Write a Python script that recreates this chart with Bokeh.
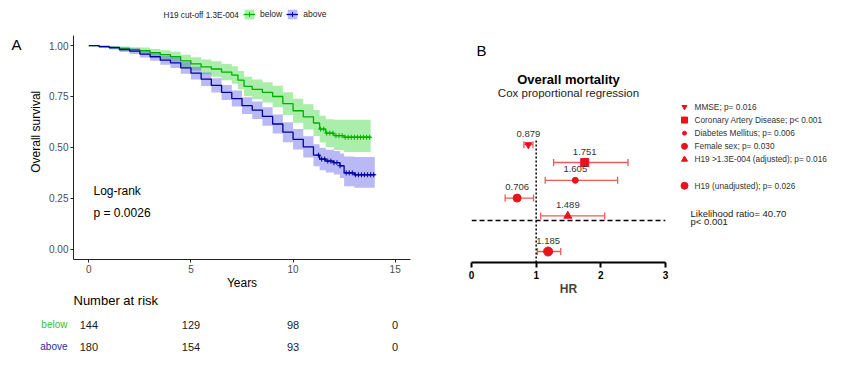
import numpy as np
from bokeh.plotting import figure
from bokeh.models import (Range1d, Label, Legend, LegendItem, ColumnDataSource,
                          Whisker, TeeHead, FixedTicker, NumeralTickFormatter)
from bokeh.layouts import row, column
from bokeh.embed import file_html
from bokeh.resources import INLINE
from bokeh.core.properties import value

# ---------------- data: panel A (Kaplan-Meier) ----------------
LEGEND_TITLE = "H19 cut-off 1.3E-004"
GROUPS = ["below", "above"]

BELOW_T = [0, 0.5, 1.0, 1.5, 2.0, 2.5, 3.0, 3.5, 4.0, 4.5,
           5.0, 5.5, 6.0, 6.5, 7.0, 7.3, 7.6, 8.0, 8.5, 9.0,
           9.5, 10.0, 10.5, 11.0, 11.3, 11.6, 12.0, 12.5, 13.8]
BELOW_S = [1.0, 0.995, 0.99, 0.985, 0.98, 0.975, 0.965, 0.955, 0.945, 0.925,
           0.91, 0.895, 0.885, 0.87, 0.855, 0.83, 0.80, 0.785, 0.77, 0.75,
           0.715, 0.68, 0.65, 0.62, 0.59, 0.57, 0.558, 0.55, 0.548]
BELOW_HI = [1.0, 1.0, 0.998, 0.995, 0.992, 0.99, 0.983, 0.977, 0.97, 0.955,
            0.943, 0.931, 0.923, 0.91, 0.898, 0.875, 0.847, 0.834, 0.82, 0.803,
            0.771, 0.739, 0.712, 0.684, 0.656, 0.638, 0.636, 0.636, 0.638]
BELOW_LO = [1.0, 0.99, 0.982, 0.975, 0.968, 0.96, 0.947, 0.933, 0.92, 0.895,
            0.877, 0.859, 0.847, 0.83, 0.812, 0.785, 0.753, 0.736, 0.72, 0.697,
            0.659, 0.621, 0.588, 0.556, 0.524, 0.502, 0.487, 0.478, 0.477]
BELOW_CENSOR_T = [11.35, 11.5, 11.65, 11.8, 11.95, 12.1, 12.25, 12.4, 12.55,
                  12.7, 12.85, 13.0, 13.15, 13.3, 13.45, 13.6, 13.75]

ABOVE_T = [0, 0.5, 1.0, 1.5, 2.0, 2.5, 3.0, 3.5, 4.0, 4.5,
           5.0, 5.5, 6.0, 6.5, 7.0, 7.5, 8.0, 8.5, 9.0, 9.5,
           10.0, 10.5, 11.0, 11.3, 11.6, 12.0, 12.3, 12.5, 13.0, 14.0]
ABOVE_S = [1.0, 0.995, 0.99, 0.98, 0.973, 0.958, 0.945, 0.928, 0.915, 0.89,
           0.865, 0.835, 0.805, 0.77, 0.74, 0.705, 0.683, 0.652, 0.615, 0.575,
           0.54, 0.503, 0.462, 0.443, 0.433, 0.425, 0.41, 0.375, 0.366, 0.364]
ABOVE_HI = [1.0, 1.0, 0.998, 0.992, 0.987, 0.975, 0.965, 0.95, 0.94, 0.918,
            0.896, 0.868, 0.84, 0.807, 0.779, 0.746, 0.726, 0.697, 0.662, 0.624,
            0.59, 0.555, 0.516, 0.498, 0.489, 0.483, 0.47, 0.455, 0.453, 0.452]
ABOVE_LO = [1.0, 0.99, 0.982, 0.968, 0.959, 0.941, 0.925, 0.906, 0.89, 0.862,
            0.834, 0.802, 0.77, 0.733, 0.701, 0.664, 0.64, 0.607, 0.568, 0.526,
            0.49, 0.451, 0.408, 0.388, 0.377, 0.367, 0.35, 0.31, 0.302, 0.301]
ABOVE_CENSOR_T = [11.25, 11.4, 11.55, 11.7, 11.85, 12.0, 12.15, 12.3, 12.6,
                  12.75, 12.9, 13.05, 13.2, 13.35, 13.5, 13.65, 13.8, 13.95]

X_TICKS = [0, 5, 10, 15]
Y_TICKS = [0, 0.25, 0.5, 0.75, 1.0]
LOGRANK_TEXT = ["Log-rank", "p = 0.0026"]

RISK_TIMES = [0, 5, 10, 15]
RISK_BELOW = [144, 129, 98, 0]
RISK_ABOVE = [180, 154, 93, 0]

# ---------------- data: panel B (Cox regression) ----------------
COX_VARS = ["MMSE", "Coronary Artery Disease", "Diabetes Mellitus", "Female sex",
            "H19 >1.3E-004 (adjusted)", "H19 (unadjusted)"]
COX_P = ["p= 0.016", "p< 0.001", "p= 0.006", "p= 0.030", "p= 0.016", "p= 0.026"]
COX_HR = [0.879, 1.751, 1.605, 0.706, 1.489, 1.185]
COX_LO = [0.81, 1.27, 1.14, 0.52, 1.07, 1.02]
COX_HI = [0.95, 2.42, 2.26, 0.96, 2.06, 1.38]
COX_ROW = [6, 5, 4, 3, 2, 0]
HR_TICKS = [0, 1, 2, 3]
LIKELIHOOD_TEXT = ["Likelihood ratio= 40.70", "p< 0.001"]

# ---------------- styles ----------------
FONT = "Liberation Sans"
GREEN, GREEN_FILL = "#00B000", "#00C800"
BLUE, BLUE_FILL = "#00009C", "#2B2BE0"
RED, RED_BAR = "#E8141B", "#EE5A5A"
MARKERS = ["inverted_triangle", "square", "circle", "circle", "triangle", "circle"]
MSIZES = [7, 8, 6, 8, 8, 9]

# ---------------- layout constants (page pixels) ----------------
W_A = 440
W_STRIP = 44
H_KM, H_RISK = 292, 63
W_KM = W_A - W_STRIP
FRAME_L, FRAME_R, FRAME_BOT = 73, 410, 260       # KM frame edges on the page
X_RANGE = (-0.75, 15.75)
Y_AXIS = (-0.05, 1.05)
FRAME_W = FRAME_R - FRAME_L
PPU_X = FRAME_W / (X_RANGE[1] - X_RANGE[0])
PPU_Y = 225 / (Y_AXIS[1] - Y_AXIS[0])
Y_TOP = Y_AXIS[1] + (FRAME_BOT - 225) / PPU_Y      # frame reaches page top


def px2t(px):
    return X_RANGE[0] + (px - FRAME_L) / PPU_X


def py2s(py):
    return Y_TOP - py / PPU_Y


def step_xy(t, s):
    t = np.asarray(t, float)
    s = np.asarray(s, float)
    return np.repeat(t, 2)[1:], np.repeat(s, 2)[:-1]


def step_at(t, s, q):
    idx = np.searchsorted(np.asarray(t), np.asarray(q), side="right") - 1
    return np.asarray(s)[idx]


# ================= Panel A: left strip (panel letter + y label) =================
strip = figure(width=W_STRIP, height=H_KM, x_range=Range1d(0, W_STRIP),
               y_range=Range1d(H_KM, 0), output_backend="svg", toolbar_location=None,
               x_axis_type=None, y_axis_type=None, min_border=0)
strip.grid.visible = False
strip.outline_line_color = None
strip.text(x=[11], y=[50], text=["A"], text_font=value(FONT), text_font_size="15px",
           text_color="black", text_align="left", text_baseline="middle")
strip.text(x=[35], y=[148], text=["Overall survival"], angle=np.pi / 2,
           text_font=value(FONT), text_font_size="12px", text_color="black",
           text_align="center", text_baseline="middle")

# ================= Panel A: KM plot =================
km = figure(width=W_KM, height=H_KM, x_range=Range1d(*X_RANGE),
            y_range=Range1d(Y_AXIS[0], Y_TOP), output_backend="svg",
            toolbar_location=None, min_border_left=FRAME_L - W_STRIP,
            min_border_right=W_A - FRAME_R, min_border_top=0,
            min_border_bottom=H_KM - FRAME_BOT)
km.grid.visible = False
km.outline_line_color = None

items = []
for name, T, S, LO, HI, CT, col, fcol in [
        ("below", BELOW_T, BELOW_S, BELOW_LO, BELOW_HI, BELOW_CENSOR_T, GREEN, GREEN_FILL),
        ("above", ABOVE_T, ABOVE_S, ABOVE_LO, ABOVE_HI, ABOVE_CENSOR_T, BLUE, BLUE_FILL)]:
    xs, lo = step_xy(T, LO)
    _, hi = step_xy(T, HI)
    band = km.varea(x=xs, y1=lo, y2=hi, fill_color=fcol, fill_alpha=0.33)
    line = km.step(x=T, y=S, mode="after", line_color=col, line_width=1.3)
    cens = km.scatter(x=CT, y=step_at(T, S, CT), marker="cross", size=5,
                      line_color=col, line_width=1)
    items.append(LegendItem(label=name, renderers=[band, line, cens]))

legend = Legend(items=items, location=(243 - FRAME_L, FRAME_BOT - 21),
                orientation="horizontal", padding=0, margin=0, spacing=4,
                glyph_width=12, glyph_height=12, label_standoff=5, label_height=12,
                label_text_font=FONT, label_text_font_size="8.5px",
                label_text_color="#222222",
                background_fill_alpha=0, border_line_alpha=0)
km.add_layout(legend)
km.add_layout(Label(x=px2t(163), y=py2s(15), text=LEGEND_TITLE, text_font=FONT,
                    text_font_size="8.2px", text_color="#222222", text_baseline="middle"))
for i, txt in enumerate(LOGRANK_TEXT):
    km.add_layout(Label(x=px2t(93), y=py2s(191 + 22 * i), text=txt, text_font=FONT,
                        text_font_size="12px", text_color="black", text_baseline="middle"))

for ax in (km.xaxis[0], km.yaxis[0]):
    ax.axis_line_color = "#222222"
    ax.axis_line_width = 1
    ax.major_tick_line_color = "#222222"
    ax.major_tick_out = 3
    ax.major_tick_in = 0
    ax.minor_tick_line_color = None
    ax.major_label_text_font = FONT
    ax.major_label_text_font_size = "10px"
    ax.major_label_text_color = "#4D4D4D"
    ax.major_label_standoff = 2
    ax.axis_label_text_font = FONT
    ax.axis_label_text_font_size = "12px"
    ax.axis_label_text_font_style = "normal"
    ax.axis_label_text_color = "black"
km.xaxis.ticker = FixedTicker(ticks=X_TICKS)
km.yaxis.ticker = FixedTicker(ticks=Y_TICKS)
km.yaxis.bounds = Y_AXIS
km.yaxis.formatter = NumeralTickFormatter(format="0.00")
km.xaxis.axis_label = "Years"
km.xaxis.axis_label_standoff = 0

# ================= Panel A: risk table =================
rs = px2t(0)
risk = figure(width=W_A, height=H_RISK, x_range=Range1d(rs, rs + W_A / PPU_X),
              y_range=Range1d(-9 / 22, 54 / 22), output_backend="svg",
              toolbar_location=None, x_axis_type=None, y_axis_type=None,
              min_border=0)
risk.grid.visible = False
risk.outline_line_color = None
risk.text(x=[X_RANGE[0]], y=[46 / 22], text=["Number at risk"], text_font=value(FONT),
          text_font_size="13px", text_color="black", text_baseline="middle",
          text_align="left")
for yrow, counts, label, col in [(1, RISK_BELOW, "below", "#33C033"),
                                 (0, RISK_ABOVE, "above", "#2A2AAA")]:
    risk.text(x=RISK_TIMES, y=[yrow] * len(RISK_TIMES), text=[str(c) for c in counts],
              text_font=value(FONT), text_font_size="11px", text_color="#1A1A1A",
              text_baseline="middle", text_align="center")
    risk.text(x=[px2t(67)], y=[yrow], text=[label], text_font=value(FONT),
              text_font_size="10px", text_color=col, text_baseline="middle",
              text_align="right")

panel_a = column(row(strip, km, spacing=0), risk, spacing=0)

# ================= Panel B: forest plot =================
H_B = H_KM + H_RISK
ROW_PX, ROW0 = 17.8, 251.0
AXIS_Y_PX = 262
BF_L, BF_R = 471, 665
W_BM = 676 - W_A
W_BL = 829 - 676
fy0, fy1 = (ROW0 - AXIS_Y_PX) / ROW_PX, ROW0 / ROW_PX
PPU_HR = (BF_R - BF_L) / (HR_TICKS[-1] - HR_TICKS[0])

fb = figure(width=W_BM, height=H_B, x_range=Range1d(HR_TICKS[0], HR_TICKS[-1]),
            y_range=Range1d(fy0, fy1), output_backend="svg", toolbar_location=None,
            y_axis_type=None, min_border_left=BF_L - W_A, min_border_right=676 - BF_R,
            min_border_top=0, min_border_bottom=H_B - AXIS_Y_PX)
fb.grid.visible = False
fb.outline_line_color = None

src = ColumnDataSource(dict(hr=COX_HR, lo=COX_LO, hi=COX_HI, row=COX_ROW,
                            lab=[f"{v:.3f}" for v in COX_HR]))
fb.segment(x0=[1], y0=[fy0], x1=[1], y1=[(ROW0 - 138) / ROW_PX], line_color="black",
           line_width=1.5, line_dash="2 2")
fb.segment(x0=[HR_TICKS[0]], x1=[HR_TICKS[-1]], y0=[(ROW0 - 220) / ROW_PX],
           y1=[(ROW0 - 220) / ROW_PX], line_color="black", line_width=1.5,
           line_dash="5 3")
wh = Whisker(source=src, base="row", lower="lo", upper="hi", dimension="width",
             line_color=RED_BAR, line_width=1.3,
             lower_head=TeeHead(size=7, line_color=RED_BAR, line_width=1.3),
             upper_head=TeeHead(size=7, line_color=RED_BAR, line_width=1.3))
fb.add_layout(wh)
for i in range(len(COX_HR)):
    fb.scatter(x=[COX_HR[i]], y=[COX_ROW[i]], marker=MARKERS[i], size=MSIZES[i],
               fill_color=RED, line_color=RED)
fb.text(x="hr", y="row", text="lab", source=src, text_font=value(FONT),
        text_font_size="9.5px", text_color="#333333", text_align="center",
        text_baseline="middle", y_offset=-11)
fb.text(x=[1.5], y=[(ROW0 - 79) / ROW_PX], text=["Overall mortality"],
        text_font=value(FONT), text_font_size="13px", text_font_style="bold",
        text_color="black", text_align="center", text_baseline="middle")
fb.text(x=[1.5], y=[(ROW0 - 92) / ROW_PX], text=["Cox proportional regression"],
        text_font=value(FONT), text_font_size="11.5px", text_color="#222222",
        text_align="center", text_baseline="middle")
fb.text(x=[(476 - BF_L) / PPU_HR], y=[(ROW0 - 50) / ROW_PX], text=["B"],
        text_font=value(FONT), text_font_size="15px", text_color="black",
        text_align="left", text_baseline="middle")

ax = fb.xaxis[0]
ax.ticker = FixedTicker(ticks=HR_TICKS)
ax.axis_line_color = "black"
ax.axis_line_width = 2
ax.major_tick_line_color = "black"
ax.major_tick_line_width = 2
ax.major_tick_out = 5
ax.major_tick_in = 0
ax.minor_tick_line_color = None
ax.major_label_text_font = FONT
ax.major_label_text_font_size = "10px"
ax.major_label_text_font_style = "bold"
ax.major_label_text_color = "black"
ax.major_label_standoff = 3
ax.axis_label = "HR"
ax.axis_label_text_font = FONT
ax.axis_label_text_font_size = "12px"
ax.axis_label_text_font_style = "bold"
ax.axis_label_standoff = 0

# ================= Panel B: legend column =================
fl = figure(width=W_BL, height=H_B, x_range=Range1d(0, W_BL),
            y_range=Range1d((ROW0 - H_B) / ROW_PX, ROW0 / ROW_PX),
            output_backend="svg", toolbar_location=None, x_axis_type=None,
            y_axis_type=None, min_border=0)
fl.grid.visible = False
fl.outline_line_color = None
for i in range(len(COX_VARS)):
    fl.scatter(x=[8], y=[COX_ROW[i]], marker=MARKERS[i], size=MSIZES[i] - 2,
               fill_color=RED, line_color=RED)
fl.text(x=[18] * len(COX_VARS), y=COX_ROW,
        text=[f"{v}; {p}" for v, p in zip(COX_VARS, COX_P)], text_font=value(FONT),
        text_font_size="8.3px", text_color="#333333", text_align="left",
        text_baseline="middle")
fl.text(x=[14, 14], y=[(ROW0 - 289) / ROW_PX, (ROW0 - 300) / ROW_PX],
        text=LIKELIHOOD_TEXT, text_font=value(FONT), text_font_size="9.5px",
        text_color="#222222", text_align="left", text_baseline="middle")

layout = row(panel_a, fb, fl, spacing=0)
open("out.html", "w").write(file_html(layout, INLINE))
